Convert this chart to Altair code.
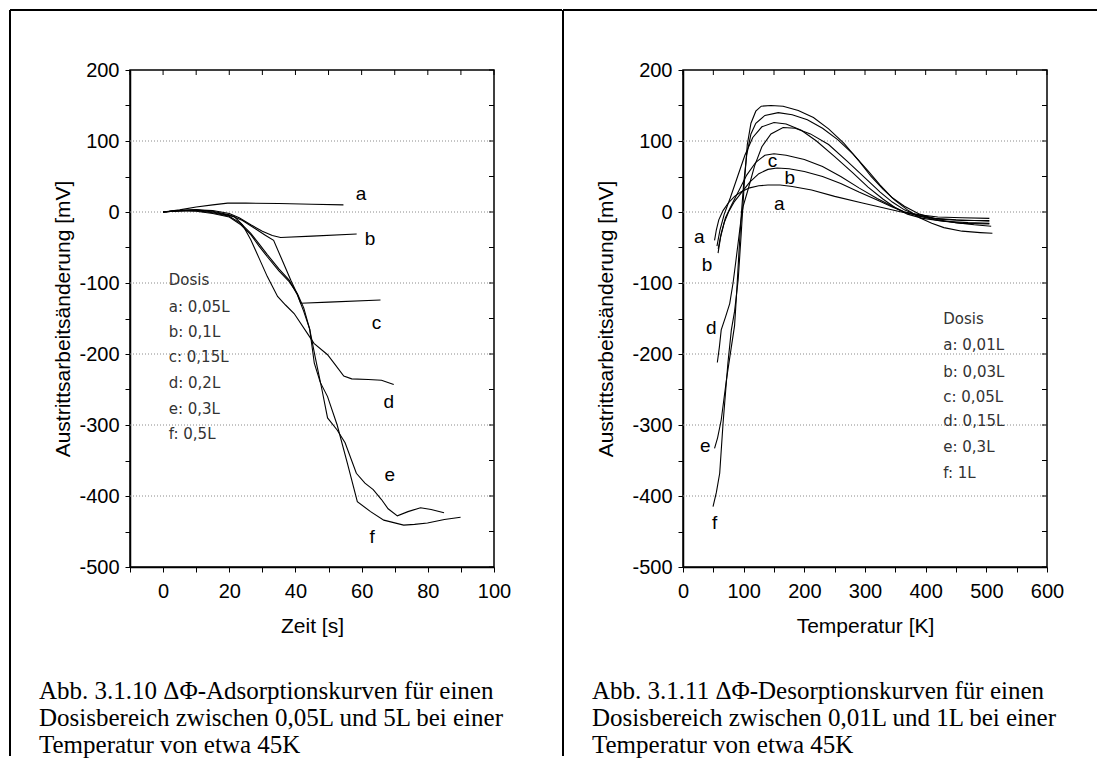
import altair as alt
import pandas as pd

# ---------------- left panel data (Zeit [s] vs mV) ----------------
LA_T = [0, 5, 10, 15, 19.5, 25, 35, 45, 54.5]
LA_V = [0, 3, 7, 10, 12.5, 12.5, 12, 11, 10]
LB_T = [0, 5, 10, 15, 20, 23, 26.5, 30, 33, 35.5, 45, 58.5]
LB_V = [0, 2, 3, 2, -2, -8, -18, -27, -33, -36, -34, -31]
LC_T = [0, 5, 10, 15, 20, 24, 28, 31, 33.4, 36, 38.6, 40.5, 41.6, 50, 65.7]
LC_V = [0, 2, 3, 1, -4, -12, -24, -33, -40, -68, -96, -115, -128.6, -127, -124]
LD_T = [0, 5, 10, 15, 18, 21.5, 24, 26.5, 29, 31.5, 34.6, 37, 39.6, 43.6, 45.6, 49.7, 52, 54.6, 57, 62, 66, 69.7]
LD_V = [0, 2, 3, 0, -3, -6.5, -18, -39, -65, -91, -119, -131, -143, -171, -185, -201, -215, -231, -235, -236, -237, -243]
LE_T = [0, 5, 10, 15, 20, 23.5, 26.5, 29, 31.5, 35, 38.1, 40.6, 42.5, 44.3, 46, 48, 49.7, 52.6, 55, 58.4, 61, 63.5, 66, 68, 70.8, 74, 77.8, 81, 84.9]
LE_V = [0, 2, 2, -1, -6, -16, -30, -45, -60, -80, -96, -117, -140, -165, -205, -250, -290, -307, -325, -368, -382, -391, -405, -418, -428, -422, -416.5, -419, -423.5]
LF_T = [0, 5, 10, 15, 20, 23.5, 26.5, 29, 31.5, 35, 38.1, 40.6, 42.5, 44.3, 45.7, 47.5, 49.7, 52.6, 55.7, 58.7, 62.7, 66.7, 72.7, 76, 79.9, 85, 89.9]
LF_V = [0, 2, 1, -2, -7, -18, -32, -48, -63, -83, -98, -115, -135, -165, -213, -240, -260, -300, -354, -408, -422, -434, -441, -440, -438, -433, -430]

# ---------------- right panel data (Temperatur [K] vs mV) ----------------
RA_T = [52, 55, 59, 66, 74, 85, 96, 110, 125, 140, 160, 180, 212, 250, 294, 335, 360, 390, 415, 450, 480, 505]
RA_V = [-40, -25, -11, 2, 12, 22, 28.6, 34, 37, 38, 38, 36, 31, 22, 13, 5, 0, -5, -9, -11, -12, -13]
RB_T = [57.8, 62, 68, 75, 85, 97, 110, 125, 140, 155, 175, 200, 230, 260, 290, 320, 345, 365, 390, 420, 460, 505]
RB_V = [-58, -35, -15, 0, 15, 28, 42, 54, 60, 62, 61, 57, 50, 40, 28, 17, 7, 0, -4, -7, -8, -9]
RC_T = [58, 63, 70, 80, 92, 105, 120, 135, 150, 170, 200, 230, 260, 290, 320, 345, 365, 390, 420, 460, 505]
RC_V = [-52, -30, -8, 10, 30, 52, 70, 80, 82, 80, 74, 64, 50, 34, 19, 8, 0, -6, -10, -12, -12]
RG_T = [56, 61, 68, 78, 90, 102, 115, 130, 150, 170, 195, 220, 250, 280, 305, 330, 350, 370, 395, 430, 470, 505]
RG_V = [-48, -25, -3, 20, 50, 80, 105, 120, 126, 124, 115, 100, 78, 55, 35, 18, 6, -3, -9, -13, -15, -16]
RD_T = [56.6, 60, 63, 70, 77, 82.5, 87, 90.8, 95, 99, 107, 118, 130, 145, 165, 185, 210, 240, 270, 300, 325, 345, 365, 390, 420, 460, 505]
RD_V = [-212, -190, -166, -148, -129, -100, -70, -44, -15, 7.5, 31, 65, 92, 110, 119, 118, 110, 95, 72, 48, 28, 14, 3, -6, -12, -16, -17]
RE_T = [52, 57, 63, 71.5, 79.7, 85, 88, 92, 96, 100, 105, 112, 120, 135, 157, 180, 205, 230, 255, 280, 305, 325, 345, 365, 390, 420, 450, 480, 508]
RE_V = [-333, -318, -293, -237, -190, -160, -120, -60, -5, 40, 80, 110, 125, 136, 140, 137, 130, 118, 102, 82, 58, 38, 20, 8, -3, -11, -15, -18, -20]
RF_T = [49.5, 55, 60.5, 66, 74, 79.7, 85, 91, 96, 101, 106, 112, 120, 129, 145, 165, 190, 215, 240, 265, 290, 310, 330, 350, 370, 390, 410, 430, 460, 490, 510]
RF_V = [-415, -395, -368, -298, -213, -166, -140, -95, -30, 40, 95, 125, 142, 149, 150, 149, 143, 133, 117, 97, 72, 50, 32, 16, 3, -8, -16, -22, -27, -29, -30]

# ---------------- ticks, grid, labels ----------------
L_XTICKS = list(range(-10, 101, 10))
R_XTICKS = list(range(0, 601, 50))
YTICKS = list(range(-500, 201, 50))
GRID_Y = [100, 0, -100, -200, -300, -400]

L_LAB = ["a", "b", "c", "d", "e", "f"]
L_LAB_T = [59.8, 62.5, 64.5, 68.2, 68.5, 63.2]
L_LAB_V = [26, -38.5, -156, -267, -371, -458]
R_LAB = ["a", "b", "d", "e", "f", "c", "b", "a"]
R_LAB_T = [27, 39.6, 46.7, 36.8, 52, 147.4, 176, 158.5]
R_LAB_V = [-35, -75, -163, -330, -438, 72, 48, 11]

L_LEG = ["Dosis", "a: 0,05L", "b: 0,1L", "c: 0,15L", "d: 0,2L", "e: 0,3L", "f: 0,5L"]
L_LEG_T = [1.7] * 7
L_LEG_V = [-95.8, -133.4, -168.6, -203.8, -240.4, -277, -312.7]
R_LEG = ["Dosis", "a: 0,01L", "b: 0,03L", "c: 0,05L", "d: 0,15L", "e: 0,3L", "f: 1L"]
R_LEG_T = [429] * 7
R_LEG_V = [-150.7, -187.3, -225, -260, -294, -330.6, -368]

L_CAP = ["Abb. 3.1.10 \u0394\u03a6-Adsorptionskurven f\u00fcr einen",
         "Dosisbereich zwischen 0,05L und 5L bei einer",
         "Temperatur von etwa 45K"]
R_CAP = ["Abb. 3.1.11 \u0394\u03a6-Desorptionskurven f\u00fcr einen",
         "Dosisbereich zwischen 0,01L und 1L bei einer",
         "Temperatur von etwa 45K"]

W, H = 364, 497


def curves_df(curves):
    rows = []
    for name, (ts, vs) in curves.items():
        for i, (t, v) in enumerate(zip(ts, vs)):
            rows.append({"s": name, "i": i, "t": t, "v": v})
    return pd.DataFrame(rows)


def panel(curves, xdom, xticks, every, xtitle, ytitle_x, lab, lab_t, lab_v,
          leg, leg_t, leg_v, cap, top_x2):
    xaxis = alt.Axis(values=xticks, grid=False, title=xtitle, tickSize=5, labelPadding=9,
                     labelFlush=False,
                     labelExpr=f"datum.value % {every} == 0 ? '' + datum.value : ''",
                     titleY=65, titleBaseline="alphabetic")
    yaxis = alt.Axis(values=YTICKS, grid=False, title="Austrittsarbeitsänderung [mV]", tickSize=5,
                     labelPadding=6, labelFlush=False,
                     labelExpr="datum.value % 100 == 0 ? '' + datum.value : ''",
                     titleX=ytitle_x, titleY=H / 2, titleBaseline="middle", titleAlign="center")
    xs = alt.X("t:Q", scale=alt.Scale(domain=xdom, nice=False, zero=False), axis=xaxis)
    ys = alt.Y("v:Q", scale=alt.Scale(domain=[-500, 200], nice=False, zero=False), axis=yaxis)

    one = pd.DataFrame({"k": [0]})
    grid = alt.Chart(pd.DataFrame({"v": GRID_Y})).mark_rule(
        color="#8a8a8a", strokeDash=[1, 2], strokeWidth=1).encode(y=ys, x=alt.value(0), x2=alt.value(W))
    top_ticks = alt.Chart(pd.DataFrame({"t": xticks})).mark_rule(color="black").encode(
        x=xs, y=alt.value(0), y2=alt.value(5))
    right_ticks = alt.Chart(pd.DataFrame({"v": YTICKS})).mark_rule(color="black").encode(
        y=ys, x=alt.value(W - 5), x2=alt.value(W))
    lines = alt.Chart(curves_df(curves)).mark_line(color="black", strokeWidth=1.1).encode(
        x=xs, y=ys, detail="s:N", order="i:Q")
    labels = alt.Chart(pd.DataFrame({"t": lab_t, "v": lab_v, "txt": lab})).mark_text(
        font="Liberation Sans", fontSize=19, color="black").encode(x=xs, y=ys, text="txt:N")
    legend = alt.Chart(pd.DataFrame({"t": leg_t, "v": leg_v, "txt": leg})).mark_text(
        align="left", font="DejaVu Sans", fontSize=15, color="#333333").encode(x=xs, y=ys, text="txt:N")
    caption = alt.Chart(one).mark_text(
        align="left", baseline="alphabetic", font="Liberation Serif", fontSize=25, lineHeight=27,
        color="black").encode(x=alt.value(-91), y=alt.value(629), text=alt.value(cap))
    frame_top = alt.Chart(one).mark_rule(color="black", strokeWidth=2).encode(
        x=alt.value(-120), x2=alt.value(top_x2), y=alt.value(-60))
    frame_left = alt.Chart(one).mark_rule(color="black", strokeWidth=2).encode(
        x=alt.value(-120), y=alt.value(-60), y2=alt.value(686))
    return alt.layer(grid, top_ticks, right_ticks, lines, labels, legend, caption, frame_top,
                     frame_left).properties(width=W, height=H)


left = panel({"a": (LA_T, LA_V), "b": (LB_T, LB_V), "c": (LC_T, LC_V), "d": (LD_T, LD_V),
              "e": (LE_T, LE_V), "f": (LF_T, LF_V)},
             [-10, 100], L_XTICKS, 20, "Zeit [s]", -67, L_LAB, L_LAB_T, L_LAB_V,
             L_LEG, L_LEG_T, L_LEG_V, L_CAP, 432)
right = panel({"a": (RA_T, RA_V), "b": (RB_T, RB_V), "c": (RC_T, RC_V), "g": (RG_T, RG_V),
               "d": (RD_T, RD_V), "e": (RE_T, RE_V), "f": (RF_T, RF_V)},
              [0, 600], R_XTICKS, 100, "Temperatur [K]", -77, R_LAB, R_LAB_T, R_LAB_V,
              R_LEG, R_LEG_T, R_LEG_V, R_CAP, 414)

chart = alt.hconcat(left, right, spacing=189, bounds="flush").properties(
    padding=0, background="white"
).configure_view(stroke="black", strokeWidth=1.5).configure_axis(
    domainColor="black", domainWidth=1.5, tickColor="black", tickWidth=1,
    labelFont="Liberation Sans", labelFontSize=20, labelColor="black",
    titleFont="Liberation Sans", titleFontSize=21, titleFontWeight="normal", titleColor="black"
)

chart.save("out.html", embed_options={"renderer": "svg", "actions": False})
